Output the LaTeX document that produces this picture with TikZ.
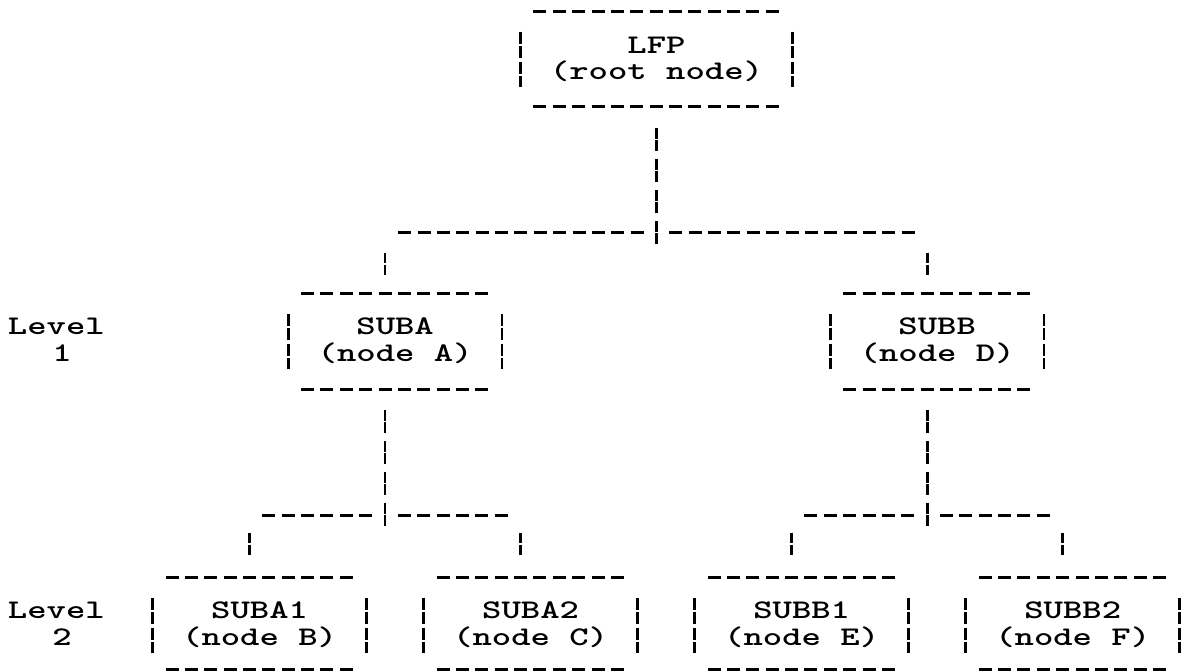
\documentclass[tikz,border=0pt]{standalone}
\usepackage{graphicx}
\usetikzlibrary{calc}

% typewriter glyphs are printed a little squat
\newcommand{\squat}[1]{\scalebox{1}[0.73]{#1}}

\tikzset{
  % one x unit = one character column, one y unit = one pixel downwards
  x=9.68pt, y=-0.5pt,
  txt/.style={inner sep=0pt, text height=8.2pt, text depth=0pt,
    font=\ttfamily\bfseries\fontsize{18.44pt}{20pt}\selectfont},
  boxframe/.style={draw=none, inner sep=0pt},
  hdashes/.style={line width=1.3pt, dash pattern=on 6.5pt off 3.18pt},
  vbars/.style={line width=1.4pt, dash pattern=on 5.25pt off 0.75pt on 5.25pt off 4.25pt},
  sidebars/.style={line width=1.4pt, dash pattern=on 6pt off 1pt on 6pt off 2pt},
}

% dashed top and bottom rules plus broken side bars of a box
\newcommand{\frameit}[1]{%
  \draw[hdashes] ($(#1.north west)+(0.664,0)$) -- ($(#1.north east)+(-0.664,0)$);
  \draw[hdashes] ($(#1.south west)+(0.664,0)$) -- ($(#1.south east)+(-0.664,0)$);
  \draw[sidebars] ($(#1.north west)+(0,20)$) -- ($(#1.north west)+(0,75)$);
  \draw[sidebars] ($(#1.north east)+(0,20)$) -- ($(#1.north east)+(0,75)$);
}

\begin{document}
\begin{tikzpicture}
\useasboundingbox (-0.9091,0) rectangle (60.2479,672);
\fill[white] (-0.9091,0) rectangle (60.2479,672);

% ---- boxes ----
\node[boxframe, minimum width=14*9.68pt, minimum height=47pt] (lfp) at (33,59) {};
\node[boxframe, minimum width=11*9.68pt, minimum height=47.5pt] (suba) at (19.5,341.5) {};
\node[boxframe, minimum width=11*9.68pt, minimum height=47.5pt] (subb) at (47.5,341.5) {};
\node[boxframe, minimum width=11*9.68pt, minimum height=45.5pt] (suba1) at (12.5,623.5) {};
\node[boxframe, minimum width=11*9.68pt, minimum height=45.5pt] (suba2) at (26.5,623.5) {};
\node[boxframe, minimum width=11*9.68pt, minimum height=45.5pt] (subb1) at (40.5,623.5) {};
\node[boxframe, minimum width=11*9.68pt, minimum height=45.5pt] (subb2) at (54.5,623.5) {};

\foreach \b in {lfp,suba,subb,suba1,suba2,subb1,subb2}{\frameit{\b}}

% ---- box texts ----
\node[txt] (lfp-t) at ($(lfp.north)+(0,34)$) {\squat{LFP}};
\node[txt] (lfp-s) at ($(lfp.north)+(0,60)$) {\squat{(root node)}};
\node[txt] (suba-t) at ($(suba.north)+(0,33)$) {\squat{SUBA}};
\node[txt] (suba-s) at ($(suba.north)+(0,60)$) {\squat{(node A)}};
\node[txt] (subb-t) at ($(subb.north)+(0,33)$) {\squat{SUBB}};
\node[txt] (subb-s) at ($(subb.north)+(0,60)$) {\squat{(node D)}};
\node[txt] (suba1-t) at ($(suba1.north)+(0,33)$) {\squat{SUBA1}};
\node[txt] (suba1-s) at ($(suba1.north)+(0,60)$) {\squat{(node B)}};
\node[txt] (suba2-t) at ($(suba2.north)+(0,33)$) {\squat{SUBA2}};
\node[txt] (suba2-s) at ($(suba2.north)+(0,60)$) {\squat{(node C)}};
\node[txt] (subb1-t) at ($(subb1.north)+(0,33)$) {\squat{SUBB1}};
\node[txt] (subb1-s) at ($(subb1.north)+(0,60)$) {\squat{(node E)}};
\node[txt] (subb2-t) at ($(subb2.north)+(0,33)$) {\squat{SUBB2}};
\node[txt] (subb2-s) at ($(subb2.north)+(0,60)$) {\squat{(node F)}};

% ---- level labels ----
\node[txt] (lv1) at (2,0 |- suba-t) {\squat{Level}};
\node[txt] (lv1n) at (2.3,0 |- suba-s) {\squat{1}};
\node[txt] (lv2) at (2,0 |- suba1-t) {\squat{Level}};
\node[txt] (lv2n) at (2.3,0 |- suba1-s) {\squat{2}};

% ---- root to level 1 ----
\coordinate (j0) at ($(lfp.south)+(0,126)$);
\draw[vbars] ($(lfp.south)+(0,22)$) -- (j0) -- ($(j0)+(0,13)$);
\draw[hdashes] ($(j0)+(-13.336,0)$) -- ($(j0)+(-0.664,0)$);
\draw[hdashes] ($(j0)+(0.664,0)$) -- ($(j0)+(13.336,0)$);
\draw[vbars] ($(suba.north west)+(5,-41)$) -- ($(suba.north west)+(5,-18.5)$);
\draw[vbars] ($(subb.north west)+(5,-41)$) -- ($(subb.north west)+(5,-18.5)$);

% ---- SUBA to level 2 ----
\coordinate (ja) at ($(suba.south west)+(5,126)$);
\draw[vbars] ($(suba.south west)+(5,21)$) -- (ja) -- ($(ja)+(0,13)$);
\draw[hdashes] ($(ja)+(-6.336,0)$) -- ($(ja)+(-0.664,0)$);
\draw[hdashes] ($(ja)+(0.664,0)$) -- ($(ja)+(6.336,0)$);
\draw[vbars] ($(suba1.north west)+(5,-45)$) -- ($(suba1.north west)+(5,-22.5)$);
\draw[vbars] ($(suba2.north west)+(5,-45)$) -- ($(suba2.north west)+(5,-22.5)$);

% ---- SUBB to level 2 ----
\coordinate (jb) at ($(subb.south west)+(5,126)$);
\draw[vbars] ($(subb.south west)+(5,21)$) -- (jb) -- ($(jb)+(0,13)$);
\draw[hdashes] ($(jb)+(-6.336,0)$) -- ($(jb)+(-0.664,0)$);
\draw[hdashes] ($(jb)+(0.664,0)$) -- ($(jb)+(6.336,0)$);
\draw[vbars] ($(subb1.north west)+(5,-45)$) -- ($(subb1.north west)+(5,-22.5)$);
\draw[vbars] ($(subb2.north west)+(5,-45)$) -- ($(subb2.north west)+(5,-22.5)$);
\end{tikzpicture}
\end{document}
